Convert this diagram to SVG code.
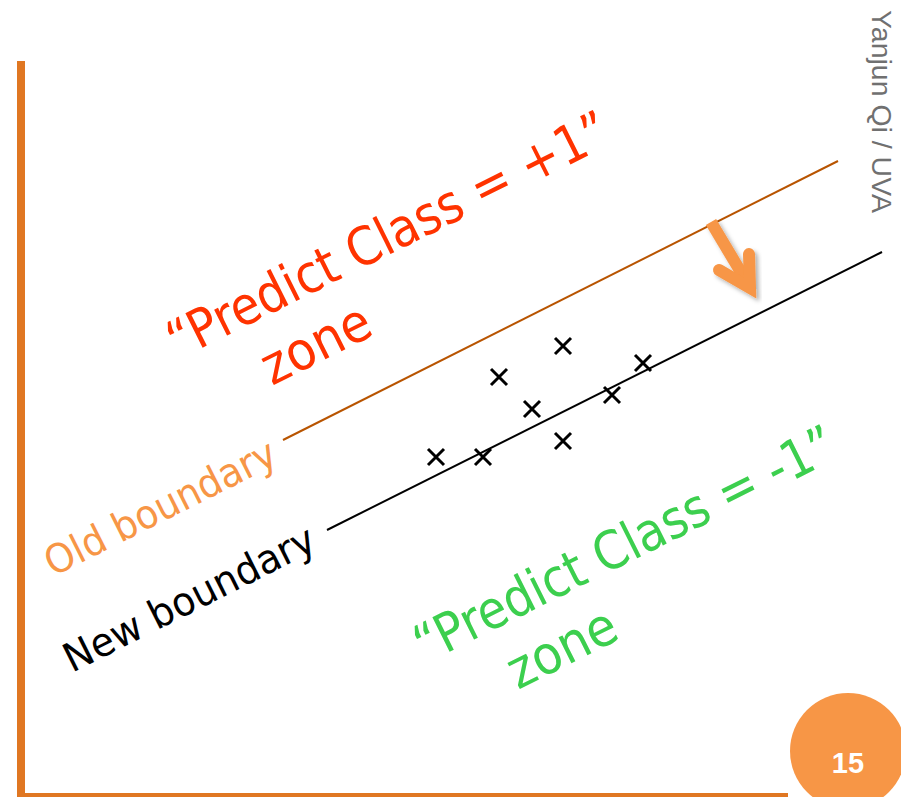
<svg xmlns="http://www.w3.org/2000/svg" width="901" height="797" viewBox="0 0 901 797">
<style>
.lbl{font-family:"DejaVu Sans","Liberation Sans",sans-serif}
.cross{stroke:#000;stroke-width:3;fill:none}
</style>
<defs>
<filter id="sh" x="-30%" y="-30%" width="160%" height="160%">
<feDropShadow dx="3" dy="3" stdDeviation="2" flood-color="#000" flood-opacity="0.3"/>
</filter>
<path id="x" d="M-8,-8 L8,8 M-8,8 L8,-8"/>
</defs>
<rect width="901" height="797" fill="#fff"/>
<g id="frame">
<rect x="17" y="61" width="8" height="736" fill="#e07722"/>
<rect x="17" y="793" width="771" height="4" fill="#e07722"/>
</g>
<g id="connectors">
<line id="old-line" x1="283" y1="440" x2="838" y2="161" stroke="#b85400" stroke-width="2"/>
<line id="new-line" x1="327" y1="530" x2="882" y2="252" stroke="#000" stroke-width="2"/>
<g id="shift-arrow" filter="url(#sh)" stroke="#f79646" stroke-width="12" fill="none">
<line x1="711" y1="222" x2="748" y2="284" stroke-linecap="butt"/>
<polyline points="719,270 750,288 749,254" stroke-linecap="round" stroke-linejoin="miter"/>
</g>
</g>
<g id="points" class="cross">
<use href="#x" x="563" y="346"/>
<use href="#x" x="499" y="377"/>
<use href="#x" x="532" y="409"/>
<use href="#x" x="436" y="457"/>
<use href="#x" x="483" y="457"/>
<use href="#x" x="563" y="441"/>
<use href="#x" x="612" y="395"/>
<use href="#x" x="643" y="363"/>
</g>
<g id="plus-zone">
<text class="lbl" transform="translate(178,360) rotate(-26.5)" font-size="53" fill="#ff3300" textLength="487" lengthAdjust="spacingAndGlyphs">“Predict Class = +1”</text>
<text class="lbl" transform="translate(272,386) rotate(-26.5)" font-size="53" fill="#ff3300" textLength="116" lengthAdjust="spacingAndGlyphs">zone</text>
</g>
<g id="minus-zone">
<text class="lbl" transform="translate(425,664) rotate(-26.5)" font-size="53" fill="#3ccf4e" textLength="464" lengthAdjust="spacingAndGlyphs">“Predict Class = -1”</text>
<text class="lbl" transform="translate(518,690) rotate(-26.5)" font-size="53" fill="#3ccf4e" textLength="116" lengthAdjust="spacingAndGlyphs">zone</text>
</g>
<g id="old-label">
<text class="lbl" transform="translate(53,577) rotate(-26.7)" font-size="40" fill="#f79646" textLength="254" lengthAdjust="spacingAndGlyphs">Old boundary</text>
</g>
<g id="new-label">
<text class="lbl" transform="translate(72,673) rotate(-26.7)" font-size="40" fill="#000" textLength="276" lengthAdjust="spacingAndGlyphs">New boundary</text>
</g>
<g id="author">
<text transform="translate(872,10) rotate(90)" font-family="Liberation Sans, sans-serif" font-size="27" fill="#707070" textLength="203" lengthAdjust="spacingAndGlyphs">Yanjun Qi / UVA</text>
</g>
<g id="page-badge">
<circle cx="848" cy="751" r="58" fill="#f79646"/>
<text x="848" y="773" text-anchor="middle" font-family="Liberation Sans, sans-serif" font-weight="bold" font-size="29" fill="#fff">15</text>
</g>
</svg>
